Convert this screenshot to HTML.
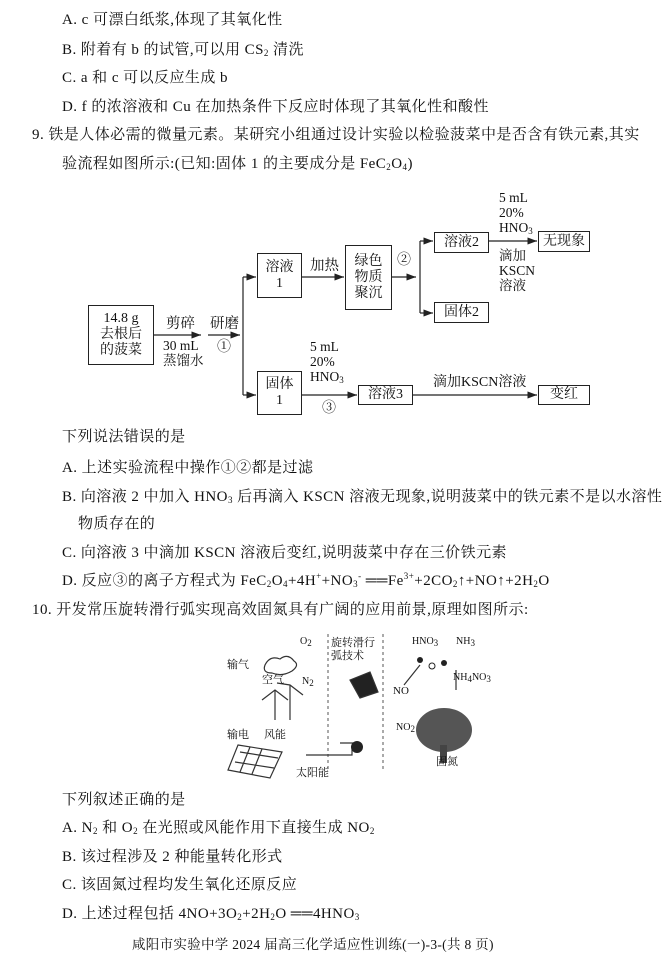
<!DOCTYPE html>
<html><head><meta charset="utf-8"><style>
body{margin:0;background:#fff;}
#p{position:relative;width:670px;height:966px;overflow:hidden;font-family:"Liberation Serif","Noto Serif CJK SC",serif;font-size:14px;color:#111;}
.t{position:absolute;white-space:nowrap;line-height:16px;}
.m{font-size:15px;letter-spacing:0.45px;}
.b{position:absolute;border:1px solid #222;box-sizing:border-box;display:flex;align-items:center;justify-content:center;text-align:center;line-height:16px;font-size:14px;}
sub{font-size:9px;vertical-align:-2px;line-height:0}
sup{font-size:9px;line-height:0}
.s{font-size:13.5px;line-height:15px;text-align:left}
</style></head><body><div id="p">
<div class="t m" style="left:62px;top:12px">A. c 可漂白纸浆,体现了其氧化性</div>
<div class="t m" style="left:62px;top:42px">B. 附着有 b 的试管,可以用 CS<sub>2</sub> 清洗</div>
<div class="t m" style="left:62px;top:70px">C. a 和 c 可以反应生成 b</div>
<div class="t m" style="left:62px;top:99px">D. f 的浓溶液和 Cu 在加热条件下反应时体现了其氧化性和酸性</div>
<div class="t m" style="left:32px;top:127px">9. 铁是人体必需的微量元素。某研究小组通过设计实验以检验菠菜中是否含有铁元素,其实</div>
<div class="t m" style="left:62px;top:156px">验流程如图所示:(已知:固体 1 的主要成分是 FeC<sub>2</sub>O<sub>4</sub>)</div>

<svg style="position:absolute;left:0;top:0" width="670" height="966">
<defs><marker id="a" markerWidth="8" markerHeight="6" refX="8" refY="3" orient="auto"><path d="M0,0L8,3L0,6z" fill="#222"/></marker></defs>
<g stroke="#222" stroke-width="1.2" fill="none">
<line x1="154" y1="335" x2="201" y2="335" marker-end="url(#a)"/>
<line x1="208" y1="335" x2="240" y2="335" marker-end="url(#a)"/>
<line x1="243" y1="277" x2="243" y2="395"/>
<line x1="243" y1="277" x2="256" y2="277" marker-end="url(#a)"/>
<line x1="243" y1="395" x2="256" y2="395" marker-end="url(#a)"/>
<line x1="302" y1="277" x2="344" y2="277" marker-end="url(#a)"/>
<line x1="392" y1="277" x2="416" y2="277" marker-end="url(#a)"/>
<line x1="420" y1="241" x2="420" y2="313"/>
<line x1="420" y1="241" x2="433" y2="241" marker-end="url(#a)"/>
<line x1="420" y1="313" x2="433" y2="313" marker-end="url(#a)"/>
<line x1="489" y1="241" x2="537" y2="241" marker-end="url(#a)"/>
<line x1="302" y1="395" x2="357" y2="395" marker-end="url(#a)"/>
<line x1="413" y1="395" x2="537" y2="395" marker-end="url(#a)"/>
</g>
<g stroke="#555" stroke-dasharray="3,3" stroke-width="1">
<line x1="328" y1="634" x2="328" y2="770"/>
<line x1="383" y1="634" x2="383" y2="770"/>
</g>
<g stroke="#333" fill="none" stroke-width="1.2">
<path d="M265,665 q5,-10 15,-6 q8,-6 14,2 q6,4 -2,10 q-10,6 -20,2 q-10,0 -7,-8z"/>
<line x1="275" y1="690" x2="275" y2="720"/><line x1="290" y1="685" x2="290" y2="720"/>
<path d="M262,700 L275,690 L288,700 M277,683 L290,685 L303,695"/>
<path d="M238,745 L282,752 L270,778 L228,770z"/>
<path d="M240,752 L278,758 M235,762 L274,768 M250,747 L240,772 M262,749 L252,774"/>
<line x1="340" y1="743" x2="358" y2="743"/><path d="M306,755 L352,755 L352,748"/>
<path d="M420,665 L404,685 M456,670 L456,690"/>
<path d="M350,680 l20,-8 l8,20 l-18,6z" fill="#222"/>
</g>
<ellipse cx="444" cy="730" rx="28" ry="22" fill="#555"/>
<rect x="440" y="745" width="7" height="18" fill="#444"/>
<circle cx="420" cy="660" r="3" fill="#222"/><circle cx="432" cy="666" r="3" fill="#fff" stroke="#222"/><circle cx="444" cy="663" r="3" fill="#222"/>
<circle cx="357" cy="747" r="6" fill="#222"/>
</svg>

<div class="b" style="left:88px;top:305px;width:66px;height:60px">14.8 g<br>去根后<br>的菠菜</div>
<div class="t" style="left:166px;top:316px;font-size:14.5px">剪碎</div>
<div class="t s" style="left:163px;top:338px">30 mL<br>蒸馏水</div>
<div class="t" style="left:210px;top:316px;font-size:14.5px">研磨</div>
<div class="t" style="left:217px;top:340px">①</div>
<div class="b" style="left:257px;top:253px;width:45px;height:45px">溶液<br>1</div>
<div class="t" style="left:310px;top:258px;font-size:14.5px">加热</div>
<div class="b" style="left:345px;top:245px;width:47px;height:65px">绿色<br>物质<br>聚沉</div>
<div class="t" style="left:397px;top:253px">②</div>
<div class="b" style="left:434px;top:232px;width:55px;height:21px">溶液2</div>
<div class="b" style="left:434px;top:302px;width:55px;height:21px">固体2</div>
<div class="t s" style="left:499px;top:190px">5 mL<br>20%<br>HNO<sub>3</sub></div>
<div class="t s" style="left:499px;top:248px">滴加<br>KSCN<br>溶液</div>
<div class="b" style="left:538px;top:231px;width:52px;height:21px">无现象</div>
<div class="b" style="left:257px;top:371px;width:45px;height:44px">固体<br>1</div>
<div class="t s" style="left:310px;top:339px">5 mL<br>20%<br>HNO<sub>3</sub></div>
<div class="t" style="left:322px;top:401px">③</div>
<div class="b" style="left:358px;top:385px;width:55px;height:20px">溶液3</div>
<div class="t" style="left:433px;top:375px;font-size:14px">滴加KSCN溶液</div>
<div class="b" style="left:538px;top:385px;width:52px;height:20px">变红</div>

<div class="t m" style="left:62px;top:429px">下列说法错误的是</div>
<div class="t m" style="left:62px;top:460px">A. 上述实验流程中操作①②都是过滤</div>
<div class="t m" style="left:62px;top:489px">B. 向溶液 2 中加入 HNO<sub>3</sub> 后再滴入 KSCN 溶液无现象,说明菠菜中的铁元素不是以水溶性</div>
<div class="t m" style="left:78px;top:516px">物质存在的</div>
<div class="t m" style="left:62px;top:545px">C. 向溶液 3 中滴加 KSCN 溶液后变红,说明菠菜中存在三价铁元素</div>
<div class="t m" style="left:62px;top:573px">D. 反应③的离子方程式为 FeC<sub>2</sub>O<sub>4</sub>+4H<sup>+</sup>+NO<sub>3</sub><sup>-</sup> ══Fe<sup>3+</sup>+2CO<sub>2</sub>↑+NO↑+2H<sub>2</sub>O</div>
<div class="t m" style="left:32px;top:602px">10. 开发常压旋转滑行弧实现高效固氮具有广阔的应用前景,原理如图所示:</div>

<div class="t" style="left:227px;top:657px;font-size:11px">输气</div>
<div class="t" style="left:262px;top:672px;font-size:11px">空气</div>
<div class="t" style="left:300px;top:634px;font-size:10px">O<sub>2</sub></div>
<div class="t" style="left:302px;top:674px;font-size:10px">N<sub>2</sub></div>
<div class="t" style="left:331px;top:637px;font-size:11px;line-height:13px">旋转滑行<br>弧技术</div>
<div class="t" style="left:227px;top:727px;font-size:11px">输电</div>
<div class="t" style="left:264px;top:727px;font-size:11px">风能</div>
<div class="t" style="left:296px;top:765px;font-size:11px">太阳能</div>
<div class="t" style="left:412px;top:634px;font-size:10px">HNO<sub>3</sub></div>
<div class="t" style="left:456px;top:634px;font-size:10px">NH<sub>3</sub></div>
<div class="t" style="left:453px;top:670px;font-size:10px">NH<sub>4</sub>NO<sub>3</sub></div>
<div class="t" style="left:393px;top:683px;font-size:11px">NO</div>
<div class="t" style="left:396px;top:720px;font-size:10px">NO<sub>2</sub></div>
<div class="t" style="left:436px;top:754px;font-size:11px">固氮</div>

<div class="t m" style="left:62px;top:792px">下列叙述正确的是</div>
<div class="t m" style="left:62px;top:820px">A. N<sub>2</sub> 和 O<sub>2</sub> 在光照或风能作用下直接生成 NO<sub>2</sub></div>
<div class="t m" style="left:62px;top:849px">B. 该过程涉及 2 种能量转化形式</div>
<div class="t m" style="left:62px;top:877px">C. 该固氮过程均发生氧化还原反应</div>
<div class="t m" style="left:62px;top:906px">D. 上述过程包括 4NO+3O<sub>2</sub>+2H<sub>2</sub>O ══4HNO<sub>3</sub></div>
<div class="t" style="left:132px;top:937px;font-size:13.5px;letter-spacing:0.3px">咸阳市实验中学 2024 届高三化学适应性训练(一)-3-(共 8 页)</div>
</div></body></html>
